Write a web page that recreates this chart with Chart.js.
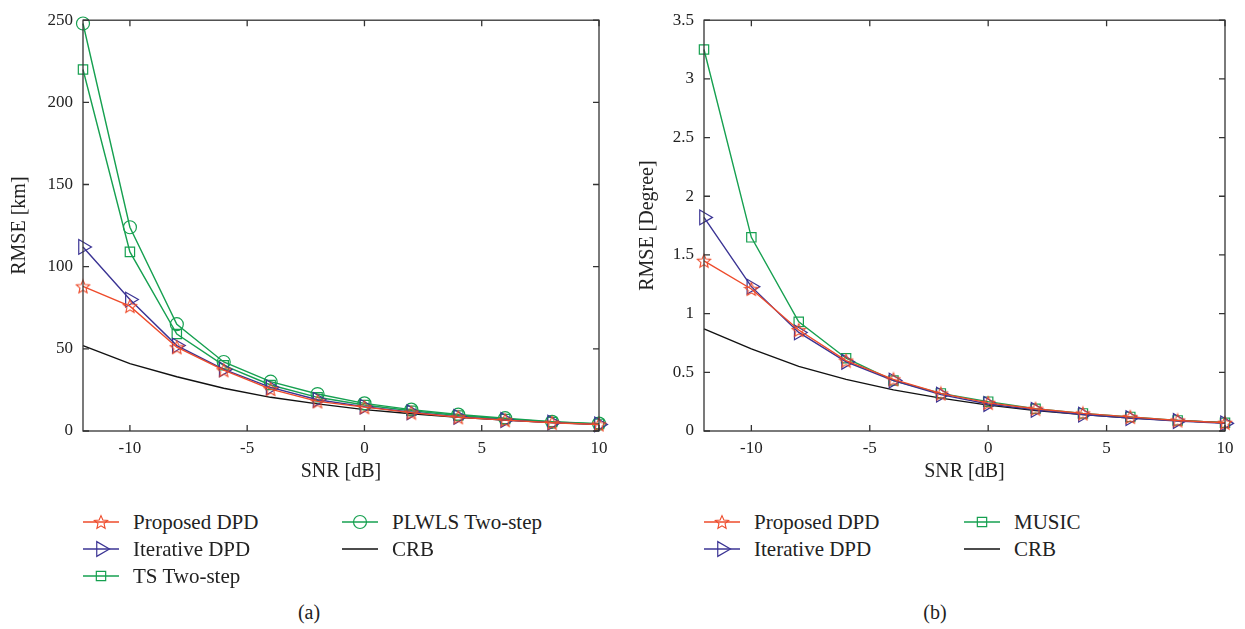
<!DOCTYPE html>
<html>
<head>
<meta charset="utf-8">
<script src="https://cdn.jsdelivr.net/npm/chart.js@4.4.1/dist/chart.umd.min.js"></script>
<style>
  body { margin: 0; background: #fff; width: 1245px; height: 629px; position: relative; overflow: hidden; font-family: 'Liberation Serif', serif; color: #222; }
  .wrap { position: absolute; top: 0; }
  .leg { position: absolute; height: 24px; display: flex; align-items: center; font-size: 21px; white-space: nowrap; }
  .leg canvas { margin-right: 14px; }
  .cap { position: absolute; top: 601px; font-size: 20px; transform: translateX(-50%); }
</style>
</head>
<body>
<div class="wrap" style="left:0;width:620px;height:490px;"><canvas id="chartA"></canvas></div>
<div class="wrap" style="left:628px;width:617px;height:490px;"><canvas id="chartB"></canvas></div>
<div class="cap" style="left:309px;">(a)</div>
<div class="cap" style="left:935px;">(b)</div>
<script>
// ===== Data =====
const snr = [-12, -10, -8, -6, -4, -2, 0, 2, 4, 6, 8, 10];
const xTicks = [-10, -5, 0, 5, 10];

const proposedA = [88, 76, 51, 37, 25.5, 18, 14.5, 11.2, 8.4, 6.6, 5, 4];
const iterativeA = [112, 80, 52, 37.5, 26.5, 19, 14.8, 11.4, 8.6, 6.7, 5.1, 4];
const tsA = [220, 109, 59, 40, 28, 20.5, 15.8, 12.3, 9.4, 7.3, 5.5, 4.3];
const plwlsA = [248, 124, 65, 42, 30, 22.5, 16.8, 13, 10, 7.8, 5.6, 4.5];
const crbA = [52, 41, 33, 26, 20.5, 16.5, 13, 10.5, 8.3, 6.6, 5.2, 4.1];
const yTicksA = [0, 50, 100, 150, 200, 250];

const proposedB = [1.45, 1.21, 0.86, 0.60, 0.44, 0.32, 0.24, 0.19, 0.15, 0.12, 0.09, 0.07];
const iterativeB = [1.82, 1.23, 0.84, 0.59, 0.43, 0.31, 0.23, 0.18, 0.14, 0.11, 0.085, 0.065];
const musicB = [3.25, 1.65, 0.93, 0.62, 0.43, 0.32, 0.25, 0.19, 0.15, 0.12, 0.09, 0.07];
const crbB = [0.87, 0.70, 0.55, 0.44, 0.35, 0.28, 0.22, 0.175, 0.14, 0.11, 0.09, 0.07];
const yTicksB = [0, 0.5, 1, 1.5, 2, 2.5, 3, 3.5];

const RED = '#ee4b2b', BLUE = '#3b3494', GREEN = '#16a050', BLACK = '#111';
const FONT = "'Liberation Serif', serif";

// ===== Star marker =====
function makeStar(color) {
  const c = document.createElement('canvas');
  c.width = 16; c.height = 16;
  const g = c.getContext('2d');
  g.strokeStyle = color; g.lineWidth = 1.1;
  g.beginPath();
  for (let i = 0; i < 10; i++) {
    const r = i % 2 === 0 ? 7 : 3.2;
    const a = -Math.PI / 2 + i * Math.PI / 5;
    const px = 8 + r * Math.cos(a), py = 8.6 + r * Math.sin(a);
    if (i === 0) g.moveTo(px, py); else g.lineTo(px, py);
  }
  g.closePath(); g.stroke();
  return c;
}
const starImg = makeStar(RED);

function series(label, values, color, style) {
  const ds = {
    label: label,
    data: values.map((v, i) => ({ x: snr[i], y: v })),
    borderColor: color,
    backgroundColor: 'rgba(0,0,0,0)',
    pointBackgroundColor: 'rgba(0,0,0,0)',
    pointBorderColor: color,
    borderWidth: 1.4,
    pointBorderWidth: 1.2,
    pointRadius: 0,
    tension: 0,
    clip: false
  };
  if (style === 'star') { ds.pointStyle = starImg; ds.pointRadius = 7; }
  if (style === 'tri') { ds.pointStyle = 'triangle'; ds.pointRotation = 90; ds.pointRadius = 8.5; }
  if (style === 'rect') { ds.pointStyle = 'rect'; ds.pointRadius = 6.6; }
  if (style === 'circle') { ds.pointStyle = 'circle'; ds.pointRadius = 6.5; }
  return ds;
}

// ===== Box with inward ticks =====
const boxPlugin = {
  id: 'box',
  afterDatasetsDraw(chart) {
    const { ctx, chartArea: a, scales } = chart;
    ctx.save();
    ctx.strokeStyle = '#333';
    ctx.lineWidth = 1.3;
    ctx.strokeRect(a.left, a.top, a.right - a.left, a.bottom - a.top);
    ctx.beginPath();
    scales.x.ticks.forEach(t => {
      const px = scales.x.getPixelForValue(t.value);
      ctx.moveTo(px, a.bottom); ctx.lineTo(px, a.bottom - 6);
      ctx.moveTo(px, a.top); ctx.lineTo(px, a.top + 6);
    });
    scales.y.ticks.forEach(t => {
      const py = scales.y.getPixelForValue(t.value);
      ctx.moveTo(a.left, py); ctx.lineTo(a.left + 6, py);
      ctx.moveTo(a.right, py); ctx.lineTo(a.right - 6, py);
    });
    ctx.stroke();
    ctx.restore();
  }
};

function makeChart(id, datasets, yTicks, yMax, yTitle, yWidth, rightPad) {
  return new Chart(document.getElementById(id), {
    type: 'line',
    data: { datasets: datasets },
    options: {
      responsive: true,
      maintainAspectRatio: false,
      animation: false,
      layout: { padding: { top: 14, right: rightPad, left: 0, bottom: 0 } },
      plugins: { legend: { display: false }, tooltip: { enabled: false } },
      scales: {
        x: {
          type: 'linear', min: -12, max: 10,
          grid: { display: false, drawTicks: false },
          border: { display: false },
          afterBuildTicks: s => { s.ticks = xTicks.map(v => ({ value: v })); },
          afterFit: s => { s.height = 59; },
          ticks: { color: '#222', padding: 7, font: { family: FONT, size: 17 }, callback: v => String(v) },
          title: { display: true, text: 'SNR [dB]', color: '#222', padding: { top: 0, bottom: 6 }, font: { family: FONT, size: 20 } }
        },
        y: {
          type: 'linear', min: 0, max: yMax,
          grid: { display: false, drawTicks: false },
          border: { display: false },
          afterBuildTicks: s => { s.ticks = yTicks.map(v => ({ value: v })); },
          afterFit: s => { s.width = yWidth; },
          ticks: { color: '#222', padding: 10, font: { family: FONT, size: 17 }, callback: v => String(v) },
          title: { display: true, text: yTitle, color: '#222', padding: { top: 8, bottom: 0 }, font: { family: FONT, size: 20 } }
        }
      }
    },
    plugins: [boxPlugin]
  });
}

const dsA = [
  series('Proposed DPD', proposedA, RED, 'star'),
  series('Iterative DPD', iterativeA, BLUE, 'tri'),
  series('TS Two-step', tsA, GREEN, 'rect'),
  series('PLWLS Two-step', plwlsA, GREEN, 'circle'),
  series('CRB', crbA, BLACK, 'none')
];
const dsB = [
  series('Proposed DPD', proposedB, RED, 'star'),
  series('Iterative DPD', iterativeB, BLUE, 'tri'),
  series('MUSIC', musicB, GREEN, 'rect'),
  series('CRB', crbB, BLACK, 'none')
];

makeChart('chartA', dsA, yTicksA, 250, 'RMSE [km]', 83, 21);
makeChart('chartB', dsB, yTicksB, 3.5, 'RMSE [Degree]', 76, 20);

// ===== Legends =====
const legendSlotsA = [[83, 522], [83, 549], [83, 576], [342, 522], [342, 549]];
const legendSlotsB = [[704, 522], [704, 549], [964, 522], [964, 549]];

function buildLegend(datasets, slots) {
  datasets.forEach((ds, i) => {
    const row = document.createElement('div');
    row.className = 'leg';
    row.style.left = slots[i][0] + 'px';
    row.style.top = (slots[i][1] - 12) + 'px';
    const c = document.createElement('canvas');
    c.width = 36; c.height = 24;
    const g = c.getContext('2d');
    g.strokeStyle = ds.borderColor; g.lineWidth = 1.4;
    g.beginPath(); g.moveTo(0, 12); g.lineTo(36, 12); g.stroke();
    if (ds.pointRadius > 0) {
      g.fillStyle = 'rgba(0,0,0,0)';
      g.strokeStyle = ds.pointBorderColor; g.lineWidth = ds.pointBorderWidth;
      Chart.helpers.drawPoint(g, { pointStyle: ds.pointStyle, rotation: ds.pointRotation || 0, radius: ds.pointRadius, borderWidth: ds.pointBorderWidth }, 18, 12);
    }
    row.appendChild(c);
    const t = document.createElement('span');
    t.textContent = ds.label;
    row.appendChild(t);
    document.body.appendChild(row);
  });
}
buildLegend(dsA, legendSlotsA);
buildLegend(dsB, legendSlotsB);
</script>
</body>
</html>
